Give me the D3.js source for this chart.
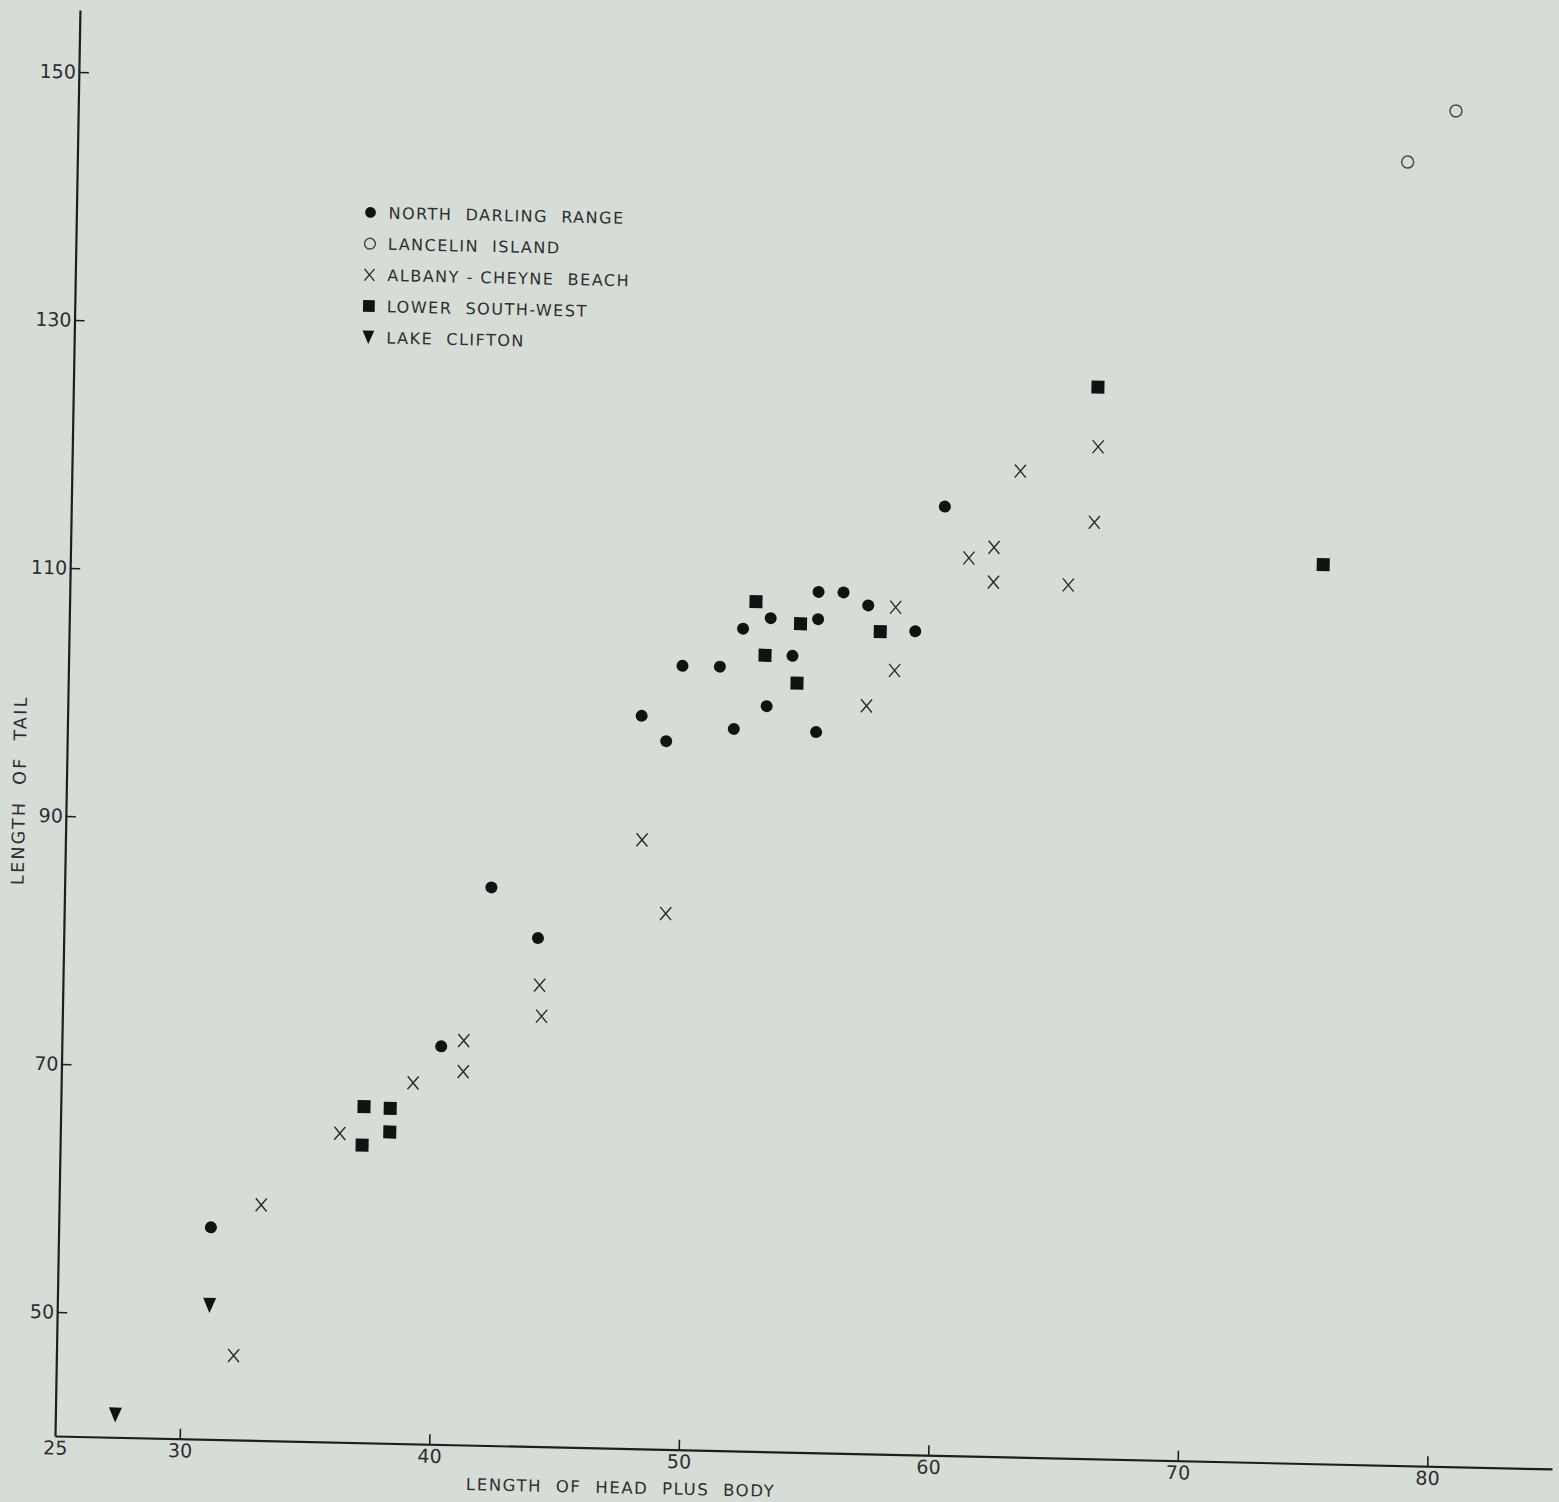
<!DOCTYPE html>
<html>
<head>
<meta charset="utf-8">
<script src="https://cdn.jsdelivr.net/npm/d3@7"></script>
<style>
  html, body { margin: 0; padding: 0; background: #d6ddd7; }
  svg { display: block; }
  text { font-family: "DejaVu Sans", "Liberation Sans", sans-serif; fill: #2e2e2e; }
</style>
</head>
<body>
<svg id="chart" width="1559" height="1502"></svg>
<script>
// ---- data (length of head plus body, length of tail) ----
const northDarlingX = [31.1, 42.1, 44.0, 40.2, 48.0, 49.0, 49.6, 51.1, 51.7, 52.0, 53.0, 53.1, 54.0, 55.0, 55.0, 55.0, 56.0, 57.0, 58.9, 60.0];
const northDarlingY = [57.1, 85.0, 81.0, 72.1, 99.1, 97.1, 103.2, 103.2, 98.2, 106.3, 100.1, 107.2, 104.2, 98.1, 107.2, 109.4, 109.4, 108.4, 106.4, 116.5];

const lancelinX = [78.3, 80.2];
const lancelinY = [145.1, 149.3];

const albanyX = [32.1, 33.1, 36.2, 39.1, 41.1, 41.1, 44.1, 44.2, 48.1, 49.1, 57.0, 58.1, 58.1, 61.0, 62.0, 62.0, 63.0, 65.0, 66.0, 66.1];
const albanyY = [46.8, 59.0, 64.9, 69.1, 72.6, 70.1, 77.2, 74.7, 89.1, 83.2, 100.3, 103.2, 108.3, 112.4, 113.3, 110.5, 119.5, 110.4, 115.5, 121.6];

const lowerSWX = [37.15, 38.2, 38.2, 37.1, 52.5, 52.9, 54.3, 54.2, 57.5, 66.05, 75.2];
const lowerSWY = [67.1, 67.0, 65.1, 64.0, 108.5, 104.2, 106.8, 102.0, 106.3, 126.4, 112.5];

const lakeCliftonX = [27.4, 31.1];
const lakeCliftonY = [41.8, 50.8];

const xTicks = [25, 30, 40, 50, 60, 70, 80];
const yTicks = [50, 70, 90, 110, 130, 150];

const legendLabels = ["NORTH  DARLING  RANGE", "LANCELIN  ISLAND", "ALBANY - CHEYNE  BEACH", "LOWER  SOUTH-WEST", "LAKE  CLIFTON"];
const legendKinds = ["dot", "ring", "cross", "square", "triangle"];

const xTitle = "LENGTH  OF  HEAD  PLUS  BODY";
const yTitle = "LENGTH  OF  TAIL";

// ---- layout ----
const svg = d3.select("#chart");
const x = d3.scaleLinear().domain([25, 85]).range([0, 1497]);
const y = d3.scaleLinear().domain([40, 155]).range([0, -1426]);

// photographed page is slightly skewed: emulate with an affine transform
const g = svg.append("g").attr("transform", "matrix(1,0.022,-0.0175,1,55,1436)");

const axisColor = "#1e1e1e";
const tickFont = 19;

// y axis
const yAxis = g.append("g")
  .call(d3.axisLeft(y).tickValues(yTicks).tickSize(-10).tickSizeOuter(0).tickPadding(3).tickFormat(d3.format("d")));
yAxis.attr("font-size", tickFont);
yAxis.select(".domain").attr("stroke", axisColor).attr("stroke-width", 2.2);
yAxis.selectAll(".tick line").attr("stroke", axisColor).attr("stroke-width", 1.6);
yAxis.selectAll(".tick text").attr("font-size", tickFont).attr("fill", "#3a3a3a")
  .style("font-family", "'DejaVu Sans', sans-serif").attr("letter-spacing", "0");

// x axis
const xAxis = g.append("g")
  .call(d3.axisBottom(x).tickValues(xTicks).tickSize(-10).tickSizeOuter(0).tickPadding(5).tickFormat(d3.format("d")));
xAxis.attr("font-size", tickFont);
xAxis.select(".domain").attr("stroke", axisColor).attr("stroke-width", 2.2);
xAxis.selectAll(".tick line").attr("stroke", axisColor).attr("stroke-width", 1.6)
  .attr("opacity", d => d === 25 ? 0 : 1);
xAxis.selectAll(".tick text").attr("font-size", tickFont).attr("fill", "#3a3a3a")
  .style("font-family", "'DejaVu Sans', sans-serif").attr("letter-spacing", "0");

// axis titles
g.append("text")
  .attr("x", x(47.7)).attr("y", 45)
  .attr("text-anchor", "middle")
  .attr("font-size", 16.5).attr("letter-spacing", "1.6")
  .attr("xml:space", "preserve")
  .text(xTitle);

g.append("text")
  .attr("transform", `translate(${-41},${y(92)}) rotate(-90)`)
  .attr("text-anchor", "middle")
  .attr("font-size", 17.5).attr("letter-spacing", "2.3")
  .attr("xml:space", "preserve")
  .text(yTitle);

// ---- marks ----
const markColor = "#121212";
function drawMarker(sel, kind, scale) {
  const s = scale || 1;
  if (kind === "dot") {
    sel.append("circle").attr("r", 6 * s).attr("fill", markColor);
  } else if (kind === "ring") {
    sel.append("circle").attr("r", 6 * s).attr("fill", "none").attr("stroke", "#4a4a4a").attr("stroke-width", 1.5);
  } else if (kind === "cross") {
    const w = 5.5 * s, h = 6.5 * s;
    sel.append("path").attr("d", `M${-w},${-h}L${w},${h}M${w},${-h}L${-w},${h}`)
      .attr("stroke", "#2a2a2a").attr("stroke-width", 1.4).attr("fill", "none");
  } else if (kind === "square") {
    const a = 6.5 * s;
    sel.append("rect").attr("x", -a).attr("y", -a).attr("width", 2 * a).attr("height", 2 * a).attr("fill", markColor);
  } else if (kind === "triangle") {
    const w = 6.5 * s, h = 7.5 * s;
    sel.append("path").attr("d", `M${-w},${-h}L${w},${-h}L0,${h}Z`).attr("fill", markColor);
  }
}

function series(xs, ys, kind) {
  const pts = xs.map((v, i) => [v, ys[i]]);
  g.append("g").selectAll("g").data(pts).join("g")
    .attr("transform", d => `translate(${x(d[0])},${y(d[1])})`)
    .each(function () { drawMarker(d3.select(this), kind, 1); });
}

series(albanyX, albanyY, "cross");
series(lancelinX, lancelinY, "ring");
series(lowerSWX, lowerSWY, "square");
series(lakeCliftonX, lakeCliftonY, "triangle");
series(northDarlingX, northDarlingY, "dot");

// ---- legend ----
const legend = g.append("g").attr("transform", "translate(294,-1230)");
legendLabels.forEach((lab, i) => {
  const row = legend.append("g").attr("transform", `translate(0,${i * 31.2})`);
  drawMarker(row.append("g"), legendKinds[i], 0.9);
  row.append("text").attr("x", 18).attr("y", 0).attr("dy", "0.36em")
    .attr("font-size", 16).attr("letter-spacing", "1.5")
    .attr("xml:space", "preserve")
    .text(lab);
});
</script>
</body>
</html>
